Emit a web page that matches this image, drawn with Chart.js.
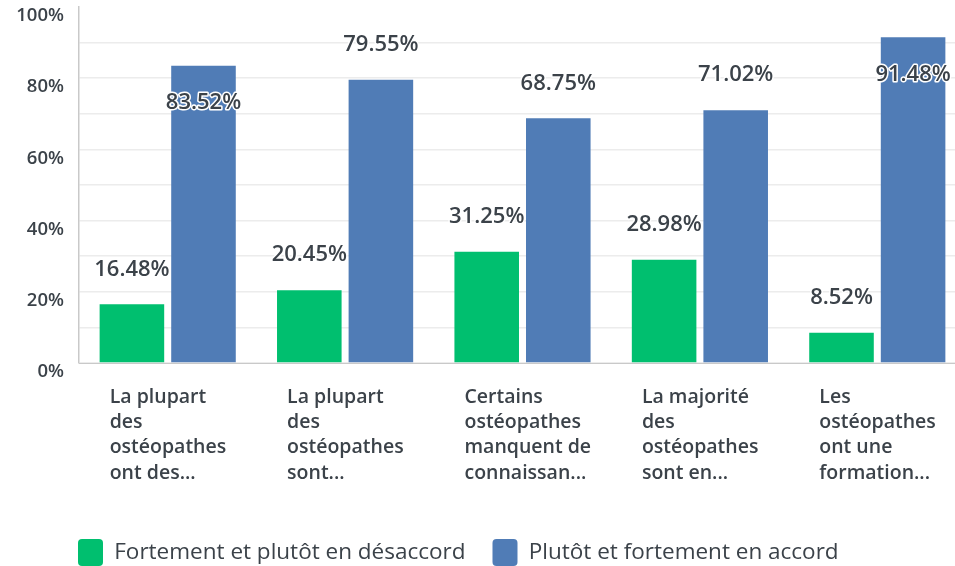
<!DOCTYPE html>
<html lang="fr">
<head>
<meta charset="utf-8">
<script src="https://cdn.jsdelivr.net/npm/chart.js@4/dist/chart.umd.min.js"></script>
<style>
  html, body { margin: 0; padding: 0; background: #ffffff; overflow: hidden; }
  /* la zone de tracé de l'original dépasse légèrement le bord droit */
  #wrap { width: 955px; height: 566px; overflow: hidden; }
</style>
</head>
<body>
<div id="wrap"><canvas id="graphique" width="966" height="566"></canvas></div>
<script>
// --- Données ---
const categories = [
    ['La plupart', 'des', 'ostéopathes', 'ont des...'],
    ['La plupart', 'des', 'ostéopathes', 'sont...'],
    ['Certains', 'ostéopathes', 'manquent de', 'connaissan...'],
    ['La majorité', 'des', 'ostéopathes', 'sont en...'],
    ['Les', 'ostéopathes', 'ont une', 'formation...']
];
const desaccord = [16.48, 20.45, 31.25, 28.98, 8.52];
const accord = [83.52, 79.55, 68.75, 71.02, 91.48];
const seriesNoms = ['Fortement et plutôt en désaccord', 'Plutôt et fortement en accord'];
const yTicks = [0, 20, 40, 60, 80, 100];

const couleurTexte = '#3b4249';
const police = '"Open Sans", "DejaVu Sans", sans-serif';

// Étiquettes de valeurs au-dessus (ou dans le haut) des barres
const etiquettesValeurs = {
    id: 'etiquettesValeurs',
    afterDatasetsDraw(chart) {
        const ctx = chart.ctx;
        ctx.save();
        ctx.font = '600 22px ' + police;
        ctx.textAlign = 'center';
        ctx.textBaseline = 'middle';
        ctx.lineJoin = 'round';
        chart.data.datasets.forEach((ds, i) => {
            const meta = chart.getDatasetMeta(i);
            meta.data.forEach((bar, j) => {
                const v = ds.data[j];
                const texte = v.toFixed(2) + '%';
                const y = v > 80 ? bar.y + 37 : bar.y - 35;
                ctx.strokeStyle = '#ffffff';
                ctx.lineWidth = 3;
                ctx.strokeText(texte, bar.x, y);
                ctx.fillStyle = couleurTexte;
                ctx.fillText(texte, bar.x, y);
            });
        });
        ctx.restore();
    }
};

// La légende commence sous l'axe vertical (comme dans l'original)
const decalageLegende = {
    id: 'decalageLegende',
    afterLayout(chart) {
        if (chart.legend) chart.legend.left = 51;
    }
};

new Chart(document.getElementById('graphique'), {
    type: 'bar',
    data: {
        labels: categories,
        datasets: [
            {
                label: seriesNoms[0],
                data: desaccord,
                backgroundColor: '#00bf6f',
                categoryPercentage: 0.807,
                barPercentage: 0.902
            },
            {
                label: seriesNoms[1],
                data: accord,
                backgroundColor: '#507cb6',
                categoryPercentage: 0.807,
                barPercentage: 0.902
            }
        ]
    },
    options: {
        responsive: false,
        animation: false,
        layout: {
            padding: { left: 0, right: 0, top: 7, bottom: -10 }
        },
        plugins: {
            tooltip: { enabled: false },
            legend: {
                position: 'bottom',
                align: 'start',
                labels: {
                    boxWidth: 25,
                    boxHeight: 27,
                    padding: 27,
                    useBorderRadius: true,
                    borderRadius: 4,
                    color: couleurTexte,
                    font: { family: police, size: 22.5, weight: '500' }
                }
            }
        },
        scales: {
            x: {
                grid: { display: false, drawTicks: false },
                border: { display: true, color: '#c9c9c9', width: 1 },
                afterFit: (scale) => {
                    scale.height = 149;
                    scale.paddingLeft = 0;
                    scale.paddingRight = 0;
                },
                ticks: {
                    autoSkip: false,
                    maxRotation: 0,
                    align: 'start',
                    labelOffset: -58,
                    padding: 22,
                    color: couleurTexte,
                    font: { family: police, size: 19.5, weight: '600', lineHeight: 1.29 }
                }
            },
            y: {
                min: 0,
                max: 100,
                grid: {
                    drawTicks: false,
                    color: (c) => (c.tick && c.tick.value === 100 ? 'rgba(0,0,0,0)' : '#ececec'),
                    lineWidth: 1.5
                },
                border: { display: true, color: '#c9c9c9', width: 1.5 },
                afterFit: (scale) => {
                    scale.width = 79;
                    scale.paddingTop = 0;
                    scale.paddingBottom = 0;
                },
                ticks: {
                    stepSize: 10,
                    padding: 15,
                    labelOffset: 9,
                    color: couleurTexte,
                    font: { family: police, size: 18.5, weight: '600' },
                    callback: (v) => (yTicks.includes(v) ? v + '%' : '')
                }
            }
        }
    },
    plugins: [etiquettesValeurs, decalageLegende]
});
</script>
</body>
</html>
